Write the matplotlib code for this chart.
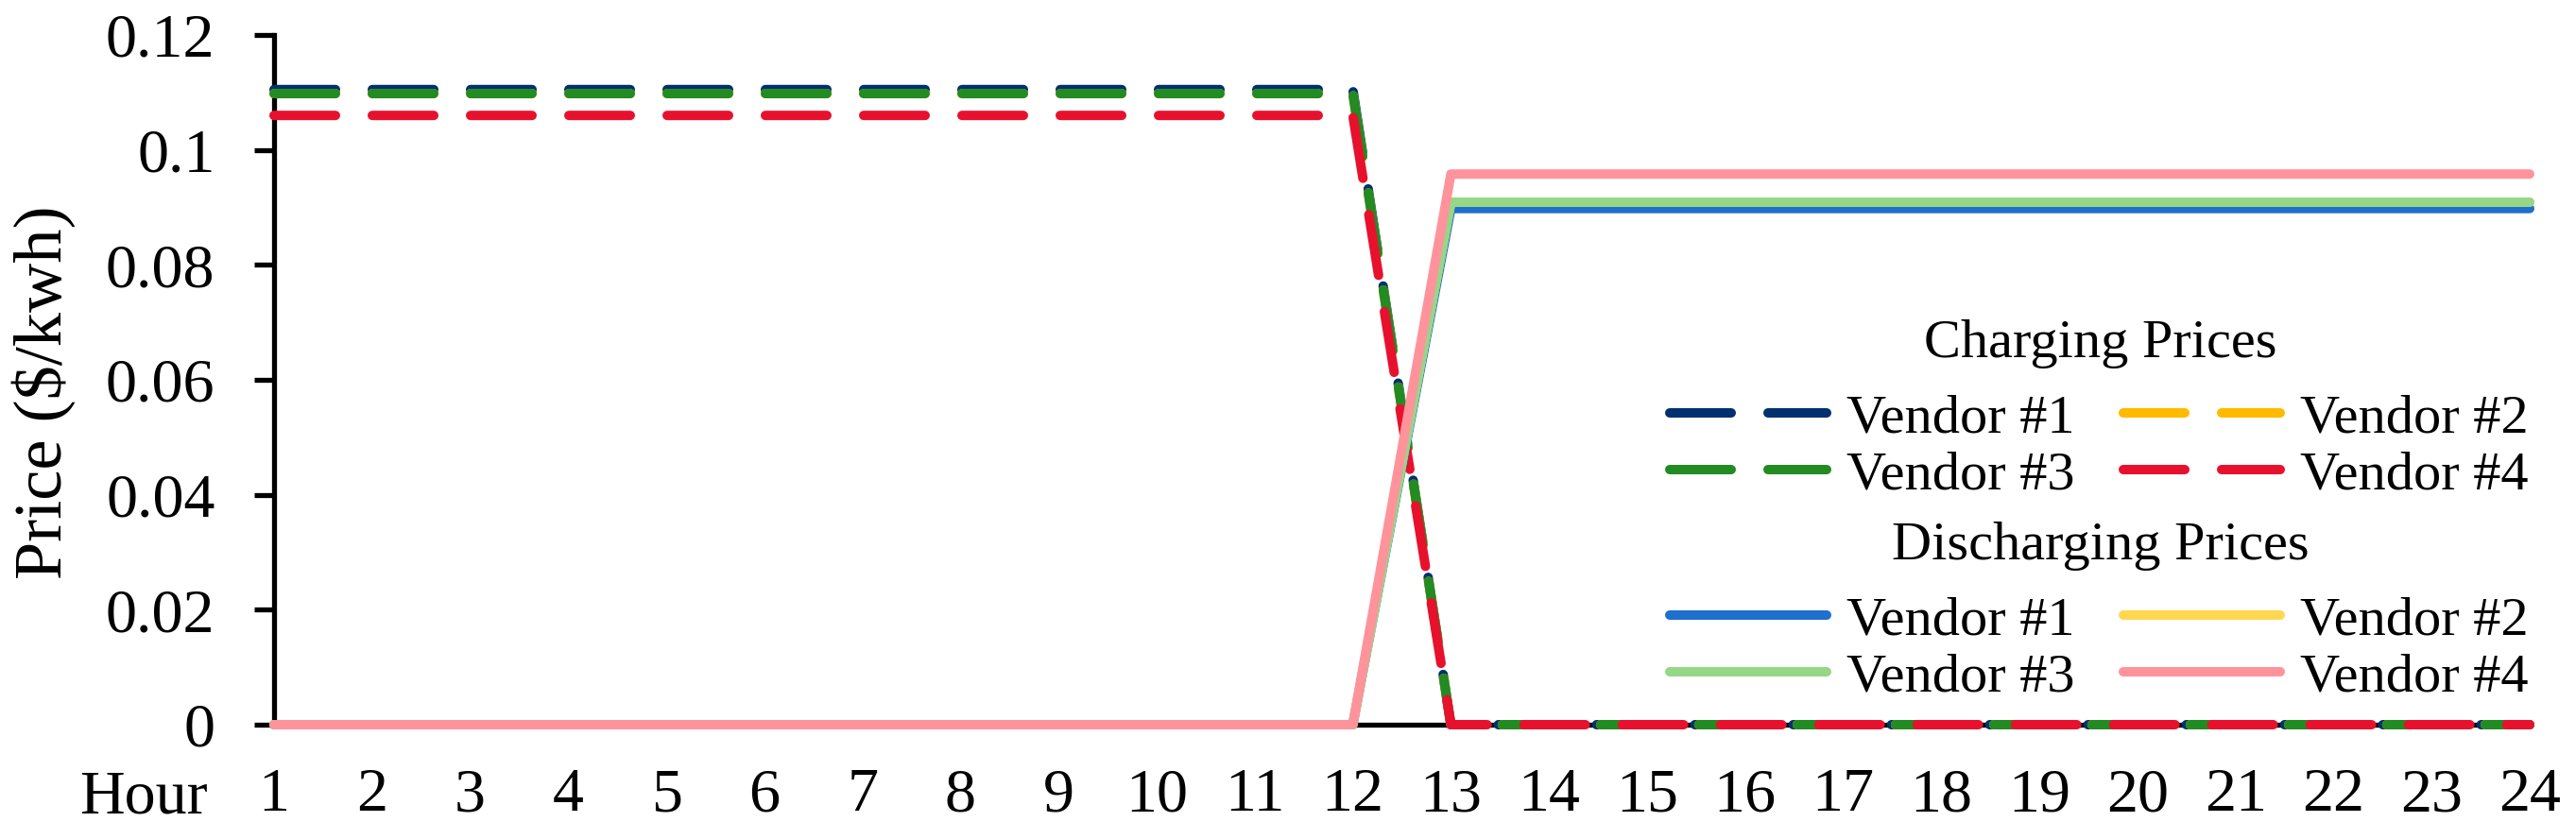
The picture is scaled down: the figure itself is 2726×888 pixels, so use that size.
import matplotlib
matplotlib.use('Agg')
import matplotlib.pyplot as plt
from matplotlib.ticker import FixedLocator

plt.rcParams['font.family'] = ['Liberation Serif', 'DejaVu Serif']

hours = list(range(1, 25))

# charging prices ($/kwh), hours 1..24
charge_v1 = [0.1105, 0.1105, 0.1105, 0.1105, 0.1105, 0.1105, 0.1105, 0.1105, 0.1105, 0.1105, 0.1105, 0.1105,
             0, 0, 0, 0, 0, 0, 0, 0, 0, 0, 0, 0]
charge_v2 = [0.1098, 0.1098, 0.1098, 0.1098, 0.1098, 0.1098, 0.1098, 0.1098, 0.1098, 0.1098, 0.1098, 0.1098,
             0, 0, 0, 0, 0, 0, 0, 0, 0, 0, 0, 0]
charge_v3 = [0.1098, 0.1098, 0.1098, 0.1098, 0.1098, 0.1098, 0.1098, 0.1098, 0.1098, 0.1098, 0.1098, 0.1098,
             0, 0, 0, 0, 0, 0, 0, 0, 0, 0, 0, 0]
charge_v4 = [0.106, 0.106, 0.106, 0.106, 0.106, 0.106, 0.106, 0.106, 0.106, 0.106, 0.106, 0.106,
             0, 0, 0, 0, 0, 0, 0, 0, 0, 0, 0, 0]

# discharging prices ($/kwh)
dis_v1 = [0, 0, 0, 0, 0, 0, 0, 0, 0, 0, 0, 0,
          0.0898, 0.0898, 0.0898, 0.0898, 0.0898, 0.0898, 0.0898, 0.0898, 0.0898, 0.0898, 0.0898, 0.0898]
dis_v2 = [0, 0, 0, 0, 0, 0, 0, 0, 0, 0, 0, 0,
          0.0909, 0.0909, 0.0909, 0.0909, 0.0909, 0.0909, 0.0909, 0.0909, 0.0909, 0.0909, 0.0909, 0.0909]
dis_v3 = [0, 0, 0, 0, 0, 0, 0, 0, 0, 0, 0, 0,
          0.0909, 0.0909, 0.0909, 0.0909, 0.0909, 0.0909, 0.0909, 0.0909, 0.0909, 0.0909, 0.0909, 0.0909]
dis_v4 = [0, 0, 0, 0, 0, 0, 0, 0, 0, 0, 0, 0,
          0.0958, 0.0958, 0.0958, 0.0958, 0.0958, 0.0958, 0.0958, 0.0958, 0.0958, 0.0958, 0.0958, 0.0958]

vendors = ['Vendor #1', 'Vendor #2', 'Vendor #3', 'Vendor #4']
charge_colors = ['#00306F', '#FFBA00', '#228B22', '#E8112D']
dis_colors = ['#1F6FCF', '#FFD850', '#96D786', '#FF939C']
ytick_vals = [0, 0.02, 0.04, 0.06, 0.08, 0.1, 0.12]
ytick_labels = ['0', '0.02', '0.04', '0.06', '0.08', '0.1', '0.12']

W, H = 2726, 888
fig = plt.figure(figsize=(W / 100, H / 100), dpi=100)
ax = fig.add_axes([290 / W, 1 - 767 / H, (2677 - 290) / W, (767 - 37) / H])

lw = 7.2
charge_lines = []
for vals, c, name in zip([charge_v1, charge_v2, charge_v3, charge_v4], charge_colors, vendors):
    ln, = ax.plot(hours, vals, color=c, lw=lw, linestyle=(0, (6.5, 3.9)),
                  dash_capstyle='round', zorder=3, clip_on=False, label=name)
    charge_lines.append(ln)

dis_lines = []
for vals, c, name in zip([dis_v1, dis_v2, dis_v3, dis_v4], dis_colors, vendors):
    ln, = ax.plot(hours, vals, color=c, lw=lw, solid_capstyle='round',
                  zorder=3, clip_on=False, label=name)
    dis_lines.append(ln)

ax.set_xlim(1, 24)
ax.set_ylim(0, 0.12)
for s in ['top', 'right']:
    ax.spines[s].set_visible(False)
for s in ['left', 'bottom']:
    ax.spines[s].set_linewidth(3.8)
    ax.spines[s].set_color('black')

# labels on every hour, tick marks only on odd hours
ax.set_xticks(hours)
ax.set_xticklabels([str(h) for h in hours])
ax.xaxis.set_minor_locator(FixedLocator(hours[::2]))
ax.tick_params(axis='x', which='major', length=0, pad=33, labelsize=47.5)
ax.tick_params(axis='x', which='minor', length=15, width=3.8, direction='out')
ax.set_yticks(ytick_vals)
ax.set_yticklabels(ytick_labels)
ax.tick_params(axis='y', length=15, width=3.8, pad=30, labelsize=47.5)

fig.text(220 / W, 1 - 860 / H, 'Hour', ha='right', va='baseline', fontsize=47.5)
fig.text(46 / W, 1 - 415 / H, 'Price ($/kwh)', rotation=90, ha='center', va='center', fontsize=52)

# legend entries go row by row: #1 #2 / #3 #4
order = [0, 2, 1, 3]
leg_kw = dict(ncol=2, frameon=False, fontsize=42, handlelength=2.85, handletextpad=0.36,
              columnspacing=0.88, labelspacing=0.11, borderpad=0, borderaxespad=0,
              loc='upper left', bbox_transform=fig.transFigure)
leg1 = ax.legend(handles=[charge_lines[i] for i in order],
                 bbox_to_anchor=(1767 / W, 1 - 417 / H), **leg_kw)
ax.add_artist(leg1)
leg2 = ax.legend(handles=[dis_lines[i] for i in order],
                 bbox_to_anchor=(1767 / W, 1 - 631 / H), **leg_kw)

fig.text(2223 / W, 1 - 378 / H, 'Charging Prices', ha='center', va='baseline', fontsize=42)
fig.text(2223 / W, 1 - 592 / H, 'Discharging Prices', ha='center', va='baseline', fontsize=42)

fig.savefig('out.png', dpi=100)
